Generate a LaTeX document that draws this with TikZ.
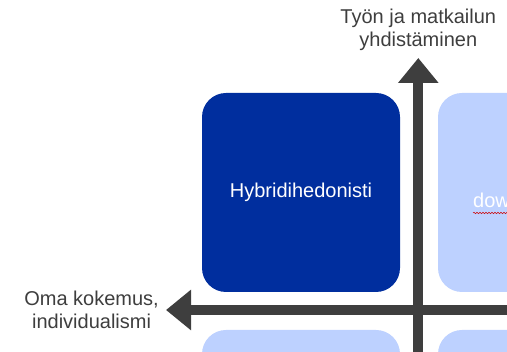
\documentclass[tikz,border=0pt]{standalone}
\usepackage{fontspec}
\setmainfont{Liberation Sans}
\usepackage{tikz}
\usetikzlibrary{arrows.meta,positioning,decorations.pathmorphing}
\definecolor{hubblue}{RGB}{0,46,158}
\definecolor{paleblue}{RGB}{189,209,255}
\definecolor{axisgrey}{RGB}{62,62,62}
\tikzset{font=\fontsize{20}{23}\selectfont}
\tikzstyle{quadbox}=[rectangle,rounded corners=24pt,minimum width=198pt,minimum height=199pt,inner sep=0pt]
\tikzstyle{hubbox}=[quadbox,fill=hubblue,text=white]
\tikzstyle{palebox}=[quadbox,fill=paleblue,text=white]
\tikzstyle{axisline}=[line width=10pt,draw=axisgrey,-{Triangle[length=25pt,width=39pt]}]
\tikzstyle{lbl}=[align=center,text=axisgrey,inner sep=0pt]

\begin{document}
\begin{tikzpicture}[x=1pt,y=-1pt]
\clip (0,0) rectangle (507,352);
\node[hubbox] (hybrid) at (301,192.5) {Hybridihedonisti};
\node[palebox] (downs) at (537,192.5) {};
\node[palebox] (lowleft) at (301,429.5) {};
\node[palebox] (lowright) at (537,429.5) {};
\node[anchor=base west,inner sep=0pt,text=white] (dow) at (473,208) {dow};
%\node (ylab) at (418,20) {};
\coordinate (ytop) at (418.3,58);
\coordinate (ybot) at (418.3,360);
\coordinate (xleft) at (166,310);
\coordinate (xright) at (515,310);
\draw[axisline] (ybot) -- (ytop);
\draw[axisline] (xright) -- (xleft);
\node[lbl,above=7pt of ytop] (ylabel) {Työn ja matkailun\\yhdistäminen};
\node[lbl,left=7pt of xleft] (xlabel) {Oma kokemus,\\individualismi};
\draw[red!80!black,line width=0.5pt,decorate,decoration={snake,amplitude=0.7pt,segment length=3pt}]
  ([yshift=-5pt]dow.base west) -- ++(40,0);
\end{tikzpicture}
\end{document}
